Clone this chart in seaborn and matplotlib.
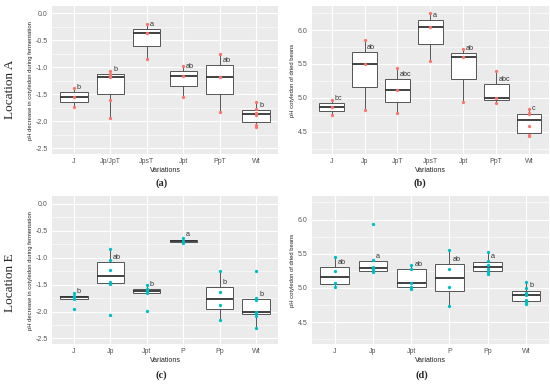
import numpy as np
import pandas as pd
import seaborn as sns
import matplotlib.pyplot as plt
from matplotlib.ticker import AutoMinorLocator

# ---- data ----
# (a) Location A, pH decrease in cotyledon during fermentation
cats_a = ["J", "Jp/JpT", "JpsT", "Jpt", "PpT", "Wt"]
vals_a = [
    [-1.73, -1.54, -1.39],
    [-1.93, -1.60, -1.18, -1.16, -1.12, -1.06],
    [-0.84, -0.37, -0.20],
    [-1.54, -1.16, -0.97],
    [-1.83, -1.17, -0.75],
    [-2.10, -2.06, -1.88, -1.84, -1.78, -1.64],
]
letters_a = ["b", "b", "a", "ab", "ab", "b"]

# (b) Location A, pH cotyledon of dried beans
cats_b = ["J", "Jp", "JpT", "JpsT", "Jpt", "PpT", "Wt"]
vals_b = [
    [4.75, 4.87, 4.965],
    [4.82, 5.50, 5.86],
    [4.77, 5.11, 5.44],
    [5.55, 6.04, 6.255],
    [4.94, 5.61, 5.72],
    [4.93, 5.00, 5.40],
    [4.43, 4.45, 4.59, 4.76, 4.77, 4.84],
]
letters_b = ["bc", "ab", "abc", "a", "ab", "abc", "c"]

# (c) Location E, pH decrease in cotyledon during fermentation
cats_c = ["J", "Jp", "Jpt", "P", "Pp", "Wt"]
vals_c = [
    [-1.95, -1.77, -1.73, -1.71, -1.66],
    [-2.07, -1.48, -1.45, -1.22, -1.04, -0.83],
    [-1.99, -1.65, -1.62, -1.585, -1.50],
    [-0.73, -0.69, -0.64],
    [-2.16, -1.875, -1.645, -1.256],
    [-2.30, -2.08, -2.03, -2.00, -1.78, -1.745, -1.256],
]
letters_c = ["b", "ab", "b", "a", "b", "b"]

# (d) Location E, pH cotyledon of dried beans
cats_d = ["J", "Jp", "Jpt", "P", "Pp", "Wt"]
vals_d = [
    [5.01, 5.075, 5.25, 5.445],
    [5.23, 5.245, 5.27, 5.31, 5.415, 5.93],
    [4.99, 5.02, 5.07, 5.28, 5.33],
    [4.74, 5.02, 5.28, 5.56],
    [5.20, 5.24, 5.28, 5.34, 5.40, 5.52],
    [4.77, 4.80, 4.83, 4.89, 4.92, 5.00, 5.08],
]
letters_d = ["ab", "a", "ab", "ab", "a", "b"]

RED = "#F8766D"
CYAN = "#00BFC4"

sns.set_theme(style="darkgrid")
plt.rcParams["font.family"] = ["Liberation Sans", "DejaVu Sans"]
plt.rcParams["axes.unicode_minus"] = False


def to_df(cats, vals):
    rows = []
    for c, vs in zip(cats, vals):
        for v in vs:
            rows.append({"Variations": c, "value": v})
    return pd.DataFrame(rows)


def panel(ax, cats, vals, letters, color, ylabel, ylim, yticks):
    df = to_df(cats, vals)
    ax.set_facecolor("#EBEBEB")
    sns.boxplot(data=df, x="Variations", y="value", order=cats, ax=ax,
                color="white", linecolor="#555555", linewidth=0.7, width=0.75,
                showfliers=False, showcaps=False,
                medianprops=dict(color="#333333", linewidth=1.3))
    sns.stripplot(data=df, x="Variations", y="value", order=cats, ax=ax,
                  jitter=False, color=color, size=2.4, linewidth=0, zorder=4)
    for i, vs in enumerate(vals):
        q3 = np.percentile(vs, 75)
        ax.text(i + 0.08, q3 + (ylim[1] - ylim[0]) * 0.008, letters[i],
                ha="left", va="bottom", fontsize=5.2, color="#333333")
    ax.set_xlim(-0.6, len(cats) - 0.4)
    ax.set_ylim(*ylim)
    ax.set_yticks(yticks)
    ax.yaxis.set_major_formatter(plt.FormatStrFormatter("%.1f"))
    ax.yaxis.set_minor_locator(AutoMinorLocator(2))
    ax.grid(which="major", color="white", linewidth=0.8)
    ax.grid(which="minor", axis="y", color="white", linewidth=0.4)
    for s in ax.spines.values():
        s.set_visible(False)
    ax.tick_params(axis="both", which="major", length=2, width=0.5, color="#444444",
                   labelsize=5, labelcolor="#555555", pad=1)
    ax.tick_params(which="minor", length=0)
    ax.set_xlabel("Variations", fontsize=5, color="#222222", labelpad=1)
    ax.set_ylabel(ylabel, fontsize=4.2, color="#222222", labelpad=2)


fig = plt.figure(figsize=(5.5, 3.84), dpi=100)
ax_a = fig.add_axes([0.0945, 0.599, 0.411, 0.385])
ax_b = fig.add_axes([0.567, 0.599, 0.431, 0.385])
ax_c = fig.add_axes([0.0945, 0.104, 0.411, 0.385])
ax_d = fig.add_axes([0.567, 0.104, 0.431, 0.385])

ferm = "pH decrease in cotyledon during fermentation"
dried = "pH cotyledon of dried beans"
panel(ax_a, cats_a, vals_a, letters_a, RED, ferm, (-2.605, 0.135),
      [0.0, -0.5, -1.0, -1.5, -2.0, -2.5])
panel(ax_b, cats_b, vals_b, letters_b, RED, dried, (4.171, 6.354),
      [4.5, 5.0, 5.5, 6.0])
panel(ax_c, cats_c, vals_c, letters_c, CYAN, ferm, (-2.605, 0.142),
      [0.0, -0.5, -1.0, -1.5, -2.0, -2.5])
panel(ax_d, cats_d, vals_d, letters_d, CYAN, dried, (4.179, 6.341),
      [4.5, 5.0, 5.5, 6.0])

serif = ["Liberation Serif", "DejaVu Serif"]
fig.text(0.018, 0.768, "Location A", rotation=90, ha="center", va="center",
         fontsize=9.5, family=serif)
fig.text(0.018, 0.263, "Location E", rotation=90, ha="center", va="center",
         fontsize=9.5, family=serif)
for x, y, s in [(0.294, 0.523, "(a)"), (0.764, 0.523, "(b)"),
                (0.294, 0.023, "(c)"), (0.767, 0.023, "(d)")]:
    fig.text(x, y, s, ha="center", va="center", fontsize=7.5, fontweight="bold",
             family=serif)

fig.savefig("out.png", dpi=100)
